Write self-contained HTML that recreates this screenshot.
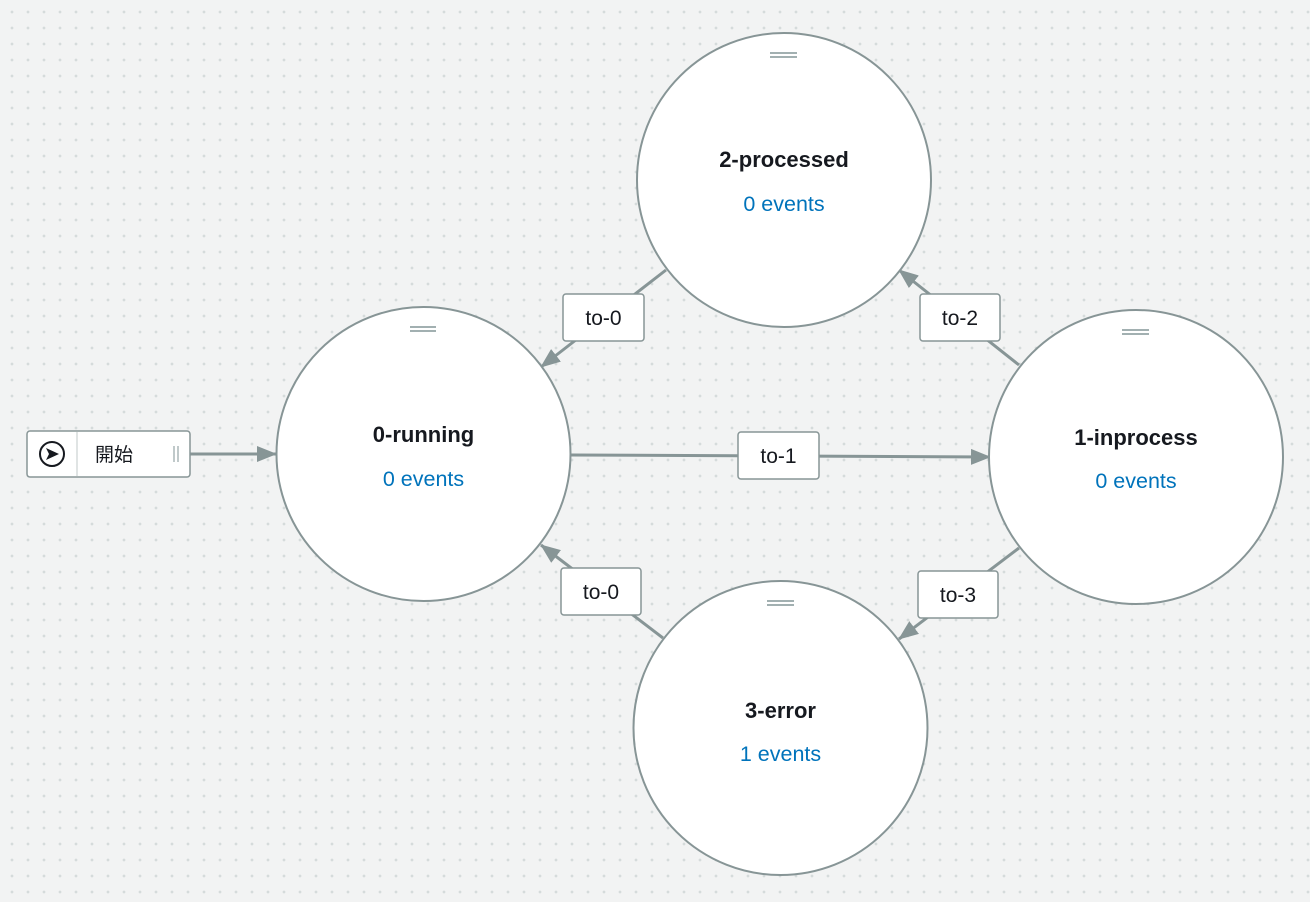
<!DOCTYPE html>
<html><head><meta charset="utf-8"><style>
html,body{margin:0;padding:0}
body{width:1310px;height:902px;overflow:hidden;background-color:#f2f3f3;
background-image:radial-gradient(circle,#d5dbdb 1.2px,transparent 1.6px);background-size:16px 16px;background-position:4px 4px;
font-family:"Liberation Sans","Noto Sans CJK JP",sans-serif;position:relative}
svg{position:absolute;left:0;top:0}
.t{font-weight:bold;font-size:22px;fill:#16191f}
.e{font-size:21.5px;fill:#0073bb}
.l{font-size:21px;fill:#16191f}
</style></head><body>
<svg width="1310" height="902" viewBox="0 0 1310 902">
<defs>
<marker id="b" markerWidth="20" markerHeight="16" refX="19" refY="8" orient="auto" markerUnits="userSpaceOnUse" viewBox="0 0 20 16"><path d="M0,0 L20,8 L0,16 z" fill="#879596"/></marker></defs>
<g stroke="#879596" stroke-width="3" fill="none">
<line x1="190" y1="454" x2="276" y2="454" marker-end="url(#b)"/>
<line x1="571" y1="455" x2="990" y2="457" marker-end="url(#b)"/>
<line x1="666" y1="270" x2="541" y2="367" marker-end="url(#b)"/>
<line x1="1019" y1="365" x2="899" y2="270" marker-end="url(#b)"/>
<line x1="1019" y1="548" x2="899" y2="639" marker-end="url(#b)"/>
<line x1="663" y1="638" x2="541" y2="545" marker-end="url(#b)"/>
</g>
<g fill="#fff" stroke="#879596" stroke-width="2">
<circle cx="423.5" cy="454" r="147"/>
<circle cx="784" cy="180" r="147"/>
<circle cx="1136" cy="457" r="147"/>
<circle cx="780.5" cy="728" r="147"/>
</g>
<g stroke="#95a5a6" stroke-width="1.8">
<line x1="410" y1="327" x2="436" y2="327"/><line x1="410" y1="331" x2="436" y2="331"/>
<line x1="770" y1="53" x2="797" y2="53"/><line x1="770" y1="57" x2="797" y2="57"/>
<line x1="1122" y1="330" x2="1149" y2="330"/><line x1="1122" y1="334" x2="1149" y2="334"/>
<line x1="767" y1="601" x2="794" y2="601"/><line x1="767" y1="605" x2="794" y2="605"/>
</g>
<g text-anchor="middle">
<text class="t" x="423.5" y="442">0-running</text><text class="e" x="423.5" y="486">0 events</text>
<text class="t" x="784" y="167">2-processed</text><text class="e" x="784" y="211">0 events</text>
<text class="t" x="1136" y="445">1-inprocess</text><text class="e" x="1136" y="488">0 events</text>
<text class="t" x="780.5" y="718">3-error</text><text class="e" x="780.5" y="761">1 events</text>
</g>
<g fill="#fff" stroke="#879596" stroke-width="1.5">
<rect x="563" y="294" width="81" height="47" rx="3"/>
<rect x="920" y="294" width="80" height="47" rx="3"/>
<rect x="738" y="432" width="81" height="47" rx="3"/>
<rect x="561" y="568" width="80" height="47" rx="3"/>
<rect x="918" y="571" width="80" height="47" rx="3"/>
<rect x="27" y="431" width="163" height="46" rx="3"/>
</g>
<line x1="77" y1="432" x2="77" y2="476" stroke="#d5dbdb" stroke-width="1.5"/>
<g text-anchor="middle">
<text class="l" x="603.5" y="325">to-0</text>
<text class="l" x="960" y="325">to-2</text>
<text class="l" x="778.5" y="463">to-1</text>
<text class="l" x="601" y="599">to-0</text>
<text class="l" x="958" y="602">to-3</text>
</g>
<circle cx="52" cy="454" r="12" fill="none" stroke="#16191f" stroke-width="2"/>
<path d="M46,448 L59,454 L46,460 L49,454 z" fill="#16191f"/>
<text x="95" y="461" font-size="19" fill="#16191f">開始</text>
<line x1="174" y1="446" x2="174" y2="462" stroke="#aab7b8" stroke-width="1.5"/>
<line x1="178" y1="446" x2="178" y2="462" stroke="#aab7b8" stroke-width="1.5"/>
</svg>
</body></html>
